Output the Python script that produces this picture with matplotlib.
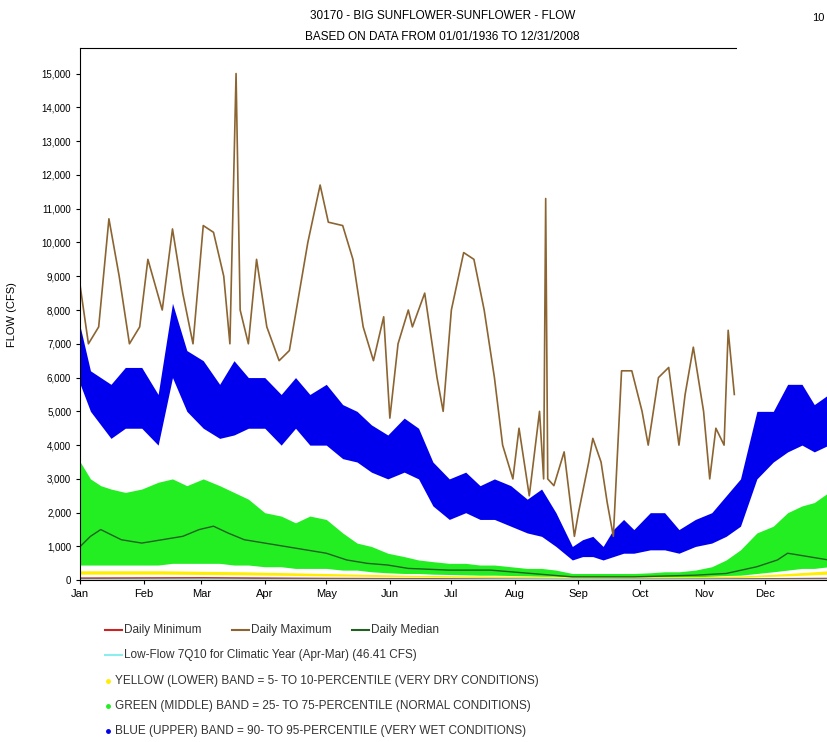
import matplotlib
matplotlib.use("Agg")
import matplotlib.pyplot as plt
from matplotlib.lines import Line2D
from matplotlib.patches import Rectangle
import numpy as np

plt.rcParams['font.family'] = ['Liberation Sans', 'DejaVu Sans']

months = ['Jan','Feb','Mar','Apr','May','Jun','Jul','Aug','Sep','Oct','Nov','Dec']
month_days = [0,31,59,90,120,151,181,212,243,273,304,334]

max_days = [0,4,9,14,19,24,29,33,40,45,50,55,60,65,70,73,76,78,82,86,91,97,102,111,117,121,128,133,138,143,148,151,155,160,162,168,174,177,181,187,192,197,202,206,211,214,219,224,226,227,228,231,236,241,243,248,250,254,257,260,264,269,274,277,282,287,292,295,299,304,307,310,314,316,319]
max_vals = [8.7,7.0,7.5,10.7,9.0,7.0,7.5,9.5,8.0,10.4,8.5,7.0,10.5,10.3,9.0,7.0,15.0,8.0,7.0,9.5,7.5,6.5,6.8,10.0,11.7,10.6,10.5,9.5,7.5,6.5,7.8,4.8,7.0,8.0,7.5,8.5,6.0,5.0,8.0,9.7,9.5,8.0,6.0,4.0,3.0,4.5,2.5,5.0,3.0,11.3,3.0,2.8,3.8,1.3,2.0,3.5,4.2,3.5,2.3,1.3,6.2,6.2,5.0,4.0,6.0,6.3,4.0,5.5,6.9,5.0,3.0,4.5,4.0,7.4,5.5]

band_days = [0,5,10,15,22,30,38,45,52,60,68,75,82,90,98,105,112,120,128,135,142,150,158,165,172,180,188,195,202,210,218,225,232,240,245,250,255,260,265,270,278,285,292,300,308,315,322,330,338,345,352,358,365]
blue_hi = [7.5,6.2,6.0,5.8,6.3,6.3,5.5,8.2,6.8,6.5,5.8,6.5,6.0,6.0,5.5,6.0,5.5,5.8,5.2,5.0,4.6,4.3,4.8,4.5,3.5,3.0,3.2,2.8,3.0,2.8,2.4,2.7,2.0,1.0,1.2,1.3,1.0,1.5,1.8,1.5,2.0,2.0,1.5,1.8,2.0,2.5,3.0,5.0,5.0,5.8,5.8,5.2,5.5]
blue_lo = [5.8,5.0,4.6,4.2,4.5,4.5,4.0,6.0,5.0,4.5,4.2,4.3,4.5,4.5,4.0,4.5,4.0,4.0,3.6,3.5,3.2,3.0,3.2,3.0,2.2,1.8,2.0,1.8,1.8,1.6,1.4,1.3,1.0,0.6,0.7,0.7,0.6,0.7,0.8,0.8,0.9,0.9,0.8,1.0,1.1,1.3,1.6,3.0,3.5,3.8,4.0,3.8,4.0]
green_hi = [3.5,3.0,2.8,2.7,2.6,2.7,2.9,3.0,2.8,3.0,2.8,2.6,2.4,2.0,1.9,1.7,1.9,1.8,1.4,1.1,1.0,0.8,0.7,0.6,0.55,0.5,0.5,0.45,0.45,0.4,0.35,0.35,0.3,0.2,0.2,0.2,0.2,0.2,0.2,0.2,0.22,0.25,0.25,0.3,0.4,0.6,0.9,1.4,1.6,2.0,2.2,2.3,2.6]
green_lo = [0.45,0.45,0.45,0.45,0.45,0.45,0.45,0.5,0.5,0.5,0.5,0.45,0.45,0.4,0.4,0.35,0.35,0.35,0.3,0.3,0.25,0.22,0.2,0.2,0.18,0.17,0.16,0.15,0.15,0.14,0.13,0.12,0.12,0.1,0.1,0.1,0.1,0.1,0.1,0.1,0.1,0.1,0.1,0.1,0.12,0.14,0.15,0.2,0.25,0.3,0.35,0.35,0.4]
median_days = [0,5,10,20,30,40,50,58,65,72,80,90,100,110,120,130,140,150,160,180,200,220,240,270,300,315,330,340,345,355,365]
median_vals = [1.0,1.3,1.5,1.2,1.1,1.2,1.3,1.5,1.6,1.4,1.2,1.1,1.0,0.9,0.8,0.6,0.5,0.45,0.35,0.3,0.3,0.2,0.1,0.1,0.15,0.2,0.4,0.6,0.8,0.7,0.6]
yellow_hi = [0.28,0.28,0.25,0.2,0.15,0.12,0.1,0.1,0.12,0.2,0.28]
yellow_lo = [0.18,0.18,0.16,0.13,0.1,0.08,0.06,0.06,0.08,0.13,0.18]
yellow_days = [0,40,80,120,160,200,240,280,320,345,365]
min_days = [0,60,120,180,240,300,365]
min_vals = [0.06,0.07,0.05,0.04,0.02,0.03,0.05]
q7_10 = 46.41

fig = plt.figure(figsize=(8.27,7.42), dpi=100)
ax = fig.add_axes([0.097,0.218,0.905,0.717])
k = 1000
ax.fill_between(band_days, np.array(blue_lo)*k, np.array(blue_hi)*k, color='#0000ee', lw=0)
ax.fill_between(band_days, np.array(green_lo)*k, np.array(green_hi)*k, color='#22ee22', lw=0)
ax.fill_between(yellow_days, np.array(yellow_lo)*k, np.array(yellow_hi)*k, color='#ffee00', lw=0)
ax.plot(median_days, np.array(median_vals)*k, color='#206020', lw=1)
ax.plot(min_days, np.array(min_vals)*k, color='#cc2222', lw=1.2)
ax.axhline(q7_10, color='#88eeee', lw=1)
ax.plot(max_days, np.array(max_vals)*k, color='#8b6431', lw=1.2)

ax.set_xlim(0,365)
ax.set_ylim(0,15750)
ax.set_xticks(month_days)
ax.set_xticklabels(months, fontsize=8)
ax.set_yticks(range(0,16000,1000))
ax.set_yticklabels([f"{v:,}" for v in range(0,16000,1000)], fontsize=7)
ax.tick_params(length=3)
ax.spines['right'].set_visible(False)
ax.set_ylabel('FLOW (CFS)', fontsize=8)
ax.yaxis.set_label_coords(-0.085,0.5)

cover = Rectangle((737/827, 1-383/742), 1, 1, transform=fig.transFigure, facecolor='white', edgecolor='none', zorder=10)
fig.add_artist(cover)
fig.text(812/827, 1-18/742, '10', fontsize=8, ha='left', va='center', zorder=11)

fig.text(0.535, 1-16/742, '30170 - BIG SUNFLOWER-SUNFLOWER - FLOW', ha='center', va='center', fontsize=8.5)
fig.text(0.535, 1-37/742, 'BASED ON DATA FROM 01/01/1936 TO 12/31/2008', ha='center', va='center', fontsize=8.5)

leg = [('line','#cc2222','Daily Minimum',105,630),('line','#8b6431','Daily Maximum',232,630),('line','#206020','Daily Median',352,630),
       ('line','#88eeee','Low-Flow 7Q10 for Climatic Year (Apr-Mar) (46.41 CFS)',105,655),
       ('dot','#ffee00','YELLOW (LOWER) BAND = 5- TO 10-PERCENTILE (VERY DRY CONDITIONS)',108,681),
       ('dot','#22ee22','GREEN (MIDDLE) BAND = 25- TO 75-PERCENTILE (NORMAL CONDITIONS)',108,706),
       ('dot','#0000ee','BLUE (UPPER) BAND = 90- TO 95-PERCENTILE (VERY WET CONDITIONS)',108,731)]
for kind,c,t,x,y in leg:
    yf = 1-y/742
    if kind=='line':
        fig.add_artist(Line2D([x/827,(x+17)/827],[yf,yf], color=c, lw=1.5))
        fig.text((x+19)/827, yf, t, fontsize=8.5, va='center', color='#333333')
    else:
        fig.add_artist(Line2D([x/827],[yf], marker='o', ms=2.5, color=c, lw=0))
        fig.text((x+7)/827, yf, t, fontsize=8.5, va='center', color='#333333')

fig.savefig('out.png', dpi=100)
